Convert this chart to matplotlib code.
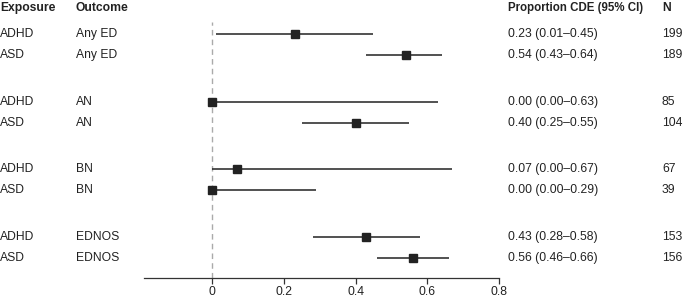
import matplotlib.pyplot as plt
import matplotlib.transforms as mtransforms

plt.rcParams['font.family'] = ['Liberation Sans', 'DejaVu Sans']

exposure = ['ADHD', 'ASD', 'ADHD', 'ASD', 'ADHD', 'ASD', 'ADHD', 'ASD']
outcome = ['Any ED', 'Any ED', 'AN', 'AN', 'BN', 'BN', 'EDNOS', 'EDNOS']
est = [0.23, 0.54, 0.00, 0.40, 0.07, 0.00, 0.43, 0.56]
lo = [0.01, 0.43, 0.00, 0.25, 0.00, 0.00, 0.28, 0.46]
hi = [0.45, 0.64, 0.63, 0.55, 0.67, 0.29, 0.58, 0.66]
n = [199, 189, 85, 104, 67, 39, 153, 156]
ticks = [0, 0.2, 0.4, 0.6, 0.8]
tick_labels = ['0', '0.2', '0.4', '0.6', '0.8']

# row positions: pairs separated by a gap
ypos = [(i // 2) * 3.22 + (i % 2) for i in range(len(est))]

W, H = 685, 298
fig = plt.figure(figsize=(W / 100, H / 100), dpi=100)
ax = fig.add_axes([144 / W, 1 - 278 / H, (499 - 144) / W, 278 / H])
ax.set_xlim(-0.19, 0.8)
ax.set_ylim(11.62, -1.62)

dark = '#222222'
ax.axvline(0, ymin=0, ymax=1 - (22 / 278), color='#aaaaaa', lw=1, ls=(0, (4, 3)))
for y, e, l, h in zip(ypos, est, lo, hi):
    ax.plot([l, h], [y, y], color=dark, lw=1.1, solid_capstyle='butt')
    ax.plot(e, y, marker='s', ms=5.5, color=dark, mec=dark)

for s in ['top', 'right', 'left']:
    ax.spines[s].set_visible(False)
ax.spines['bottom'].set_color('#333333')
ax.spines['bottom'].set_linewidth(0.9)
ax.set_yticks([])
ax.set_xticks(ticks)
ax.set_xticklabels(tick_labels)
ax.tick_params(axis='x', length=4, width=0.9, color='#333333', labelsize=8.8, pad=2, labelcolor=dark)

trans = mtransforms.blended_transform_factory(fig.transFigure, ax.transData)
fs = 8.7
hy = -1.22
x_exp, x_out, x_prop, x_n = 0 / W, 76 / W, 508 / W, 662 / W
ax.text(x_exp, hy, 'Exposure', transform=trans, fontsize=fs, fontweight='bold', va='center', color=dark)
ax.text(x_out, hy, 'Outcome', transform=trans, fontsize=fs, fontweight='bold', va='center', color=dark)
ax.text(x_prop, hy, 'Proportion CDE (95% CI)', transform=trans, fontsize=8.3, fontweight='bold', va='center', color=dark)
ax.text(x_n, hy, 'N', transform=trans, fontsize=fs, fontweight='bold', va='center', color=dark)
for y, ex, oc, e, l, h, nn in zip(ypos, exposure, outcome, est, lo, hi, n):
    ax.text(x_exp, y, ex, transform=trans, fontsize=fs, va='center', color=dark)
    ax.text(x_out, y, oc, transform=trans, fontsize=fs, va='center', color=dark)
    ax.text(x_prop, y, f'{e:.2f} ({l:.2f}\u2013{h:.2f})', transform=trans, fontsize=fs, va='center', color=dark)
    ax.text(x_n, y, str(nn), transform=trans, fontsize=fs, va='center', color=dark)

fig.savefig('out.png', dpi=100)
